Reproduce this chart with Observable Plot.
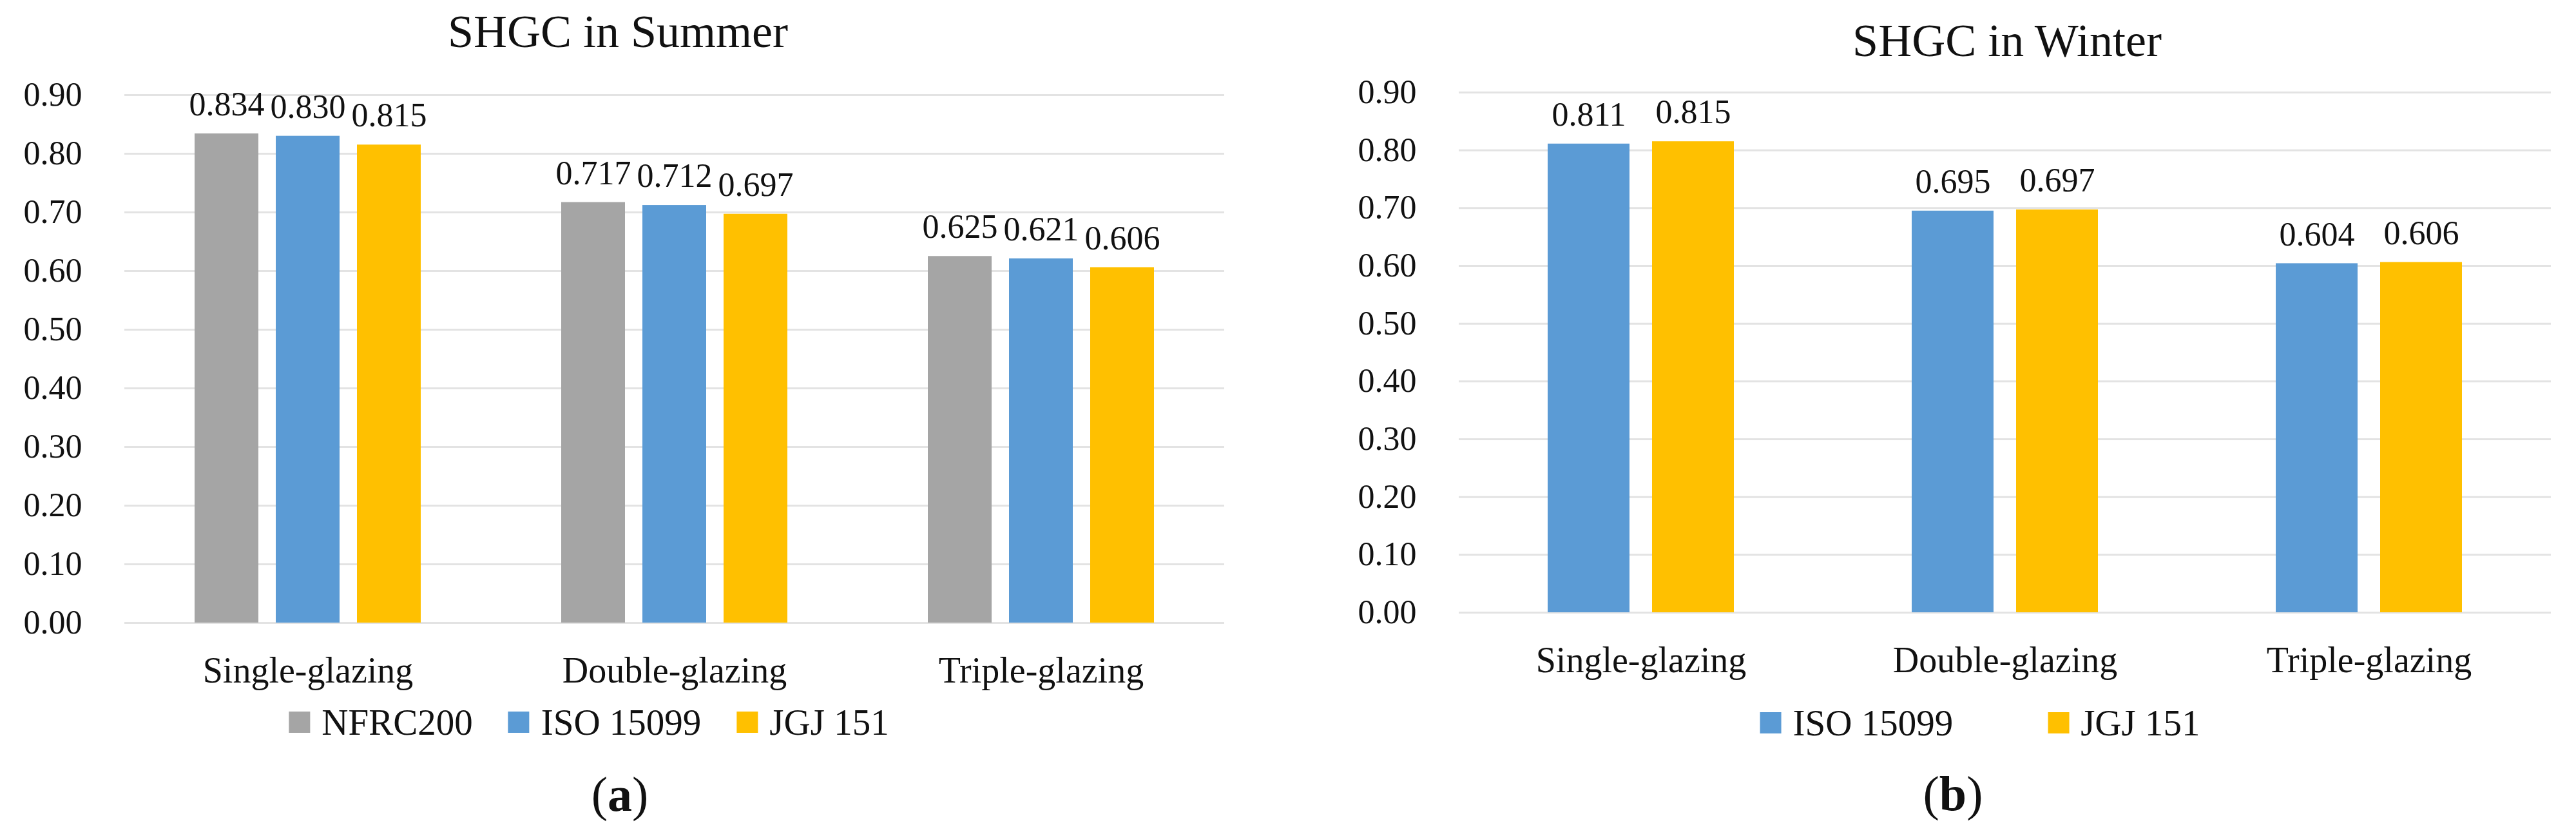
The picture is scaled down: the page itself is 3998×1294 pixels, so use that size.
<!DOCTYPE html>
<html>
<head>
<meta charset="utf-8">
<script src="https://cdn.jsdelivr.net/npm/d3@7"></script>
<script src="https://cdn.jsdelivr.net/npm/@observablehq/plot@0.6"></script>
<style>
  html, body { margin: 0; padding: 0; background: #fff; }
  #fig { position: relative; width: 3998px; height: 1294px; background: #fff; overflow: hidden;
         font-family: "Liberation Serif", serif; color: #111; }
  #fig, #fig div, #fig span, #fig svg, #fig svg text, #fig svg tspan { font-family: "Liberation Serif", serif !important; }
  .abs { position: absolute; }
  .title { font-size: 72px; line-height: 72px; white-space: nowrap; transform: translateX(-50%); }
  .legend { display: flex; align-items: center; font-size: 57px; line-height: 57px; white-space: nowrap; transform: translateX(-50%); }
  .item { display: flex; align-items: center; }
  .sw { width: 33px; height: 33px; margin-right: 18px; }
  .cap { font-size: 76px; line-height: 76px; white-space: nowrap; transform: translateX(-50%); }
</style>
</head>
<body>
<div id="fig"></div>
<script>
// ---- data ----
const categories = ["Single-glazing", "Double-glazing", "Triple-glazing"];
const summerSeries = ["NFRC200", "ISO 15099", "JGJ 151"];
const summerNFRC200 = [0.834, 0.717, 0.625];
const summerISO15099 = [0.830, 0.712, 0.621];
const summerJGJ151 = [0.815, 0.697, 0.606];
const winterSeries = ["ISO 15099", "JGJ 151"];
const winterISO15099 = [0.811, 0.695, 0.604];
const winterJGJ151 = [0.815, 0.697, 0.606];
const yTicks = [0, 0.1, 0.2, 0.3, 0.4, 0.5, 0.6, 0.7, 0.8, 0.9];
const seriesNames = ["NFRC200", "ISO 15099", "JGJ 151"];
const seriesColors = ["#A5A5A5", "#5B9BD5", "#FFC000"];
const titles = ["SHGC in Summer", "SHGC in Winter"];
const captions = ["a", "b"];

function rows(series, arrays) {
  const out = [];
  categories.forEach((c, i) => series.forEach((s, j) => out.push({category: c, series: s, value: arrays[j][i]})));
  return out;
}
const summerData = rows(summerSeries, [summerNFRC200, summerISO15099, summerJGJ151]);
const winterData = rows(winterSeries, [winterISO15099, winterJGJ151]);

function panel(data, series, o) {
  return Plot.plot({
    width: o.width, height: o.height,
    marginLeft: o.ml, marginRight: o.mr, marginTop: o.mt, marginBottom: o.mb,
    style: {fontFamily: "Liberation Serif, serif", fontSize: "52px", color: "#111", background: "#fff"},
    fx: {domain: categories, padding: 0, label: null},
    x: {domain: series, paddingInner: 0.213, paddingOuter: o.po, axis: null},
    y: {domain: [0, 0.9], label: null},
    color: {domain: seriesNames, range: seriesColors},
    marks: [
      Plot.gridY(yTicks, {stroke: "#e3e3e3", strokeOpacity: 1, strokeWidth: 3}),
      Plot.axisY(yTicks, {tickSize: 0, tickPadding: 66, tickFormat: d => d.toFixed(2), fontSize: 52, label: null}),
      Plot.axisFx({anchor: "bottom", tickSize: 0, tickPadding: 53, fontSize: 56, label: null}),
      Plot.barY(data, {fx: "category", x: "series", y: "value", fill: "series"}),
      Plot.text(data, {fx: "category", x: "series", y: "value", text: d => d.value.toFixed(3), dy: -45, fontSize: 52, fill: "#111"})
    ]
  });
}

const fig = document.getElementById("fig");
function place(el, left, top) { el.classList.add("abs"); el.style.left = left + "px"; el.style.top = top + "px"; fig.appendChild(el); return el; }

const pa = panel(summerData, summerSeries, {width: 1960, height: 1100, ml: 193, mr: 60, mt: 147, mb: 134, po: 0.847});
const pb = panel(winterData, winterSeries, {width: 1998, height: 1100, ml: 263, mr: 38, mt: 143, mb: 150, po: 0.84});
place(pa, 0, 0);
place(pb, 2000, 0);

function titleEl(text, cls) { const d = document.createElement("div"); d.className = cls; d.textContent = text; return d; }
place(titleEl(titles[0], "title"), 959, 13);
place(titleEl(titles[1], "title"), 3115, 27);

function legendEl(series, gap) {
  const d = document.createElement("div"); d.className = "legend"; d.style.gap = gap + "px";
  series.forEach(s => {
    const it = document.createElement("div"); it.className = "item";
    const sw = document.createElement("span"); sw.className = "sw"; sw.style.background = seriesColors[seriesNames.indexOf(s)];
    const t = document.createElement("span"); t.textContent = s;
    it.appendChild(sw); it.appendChild(t); d.appendChild(it);
  });
  return d;
}
place(legendEl(summerSeries, 55), 914, 1092);
place(legendEl(winterSeries, 147), 3073, 1093);

function capEl(letter) { const d = document.createElement("div"); d.className = "cap"; d.innerHTML = "(<b>" + letter + "</b>)"; return d; }
place(capEl(captions[0]), 962, 1194);
place(capEl(captions[1]), 3031, 1193);
</script>
</body>
</html>
